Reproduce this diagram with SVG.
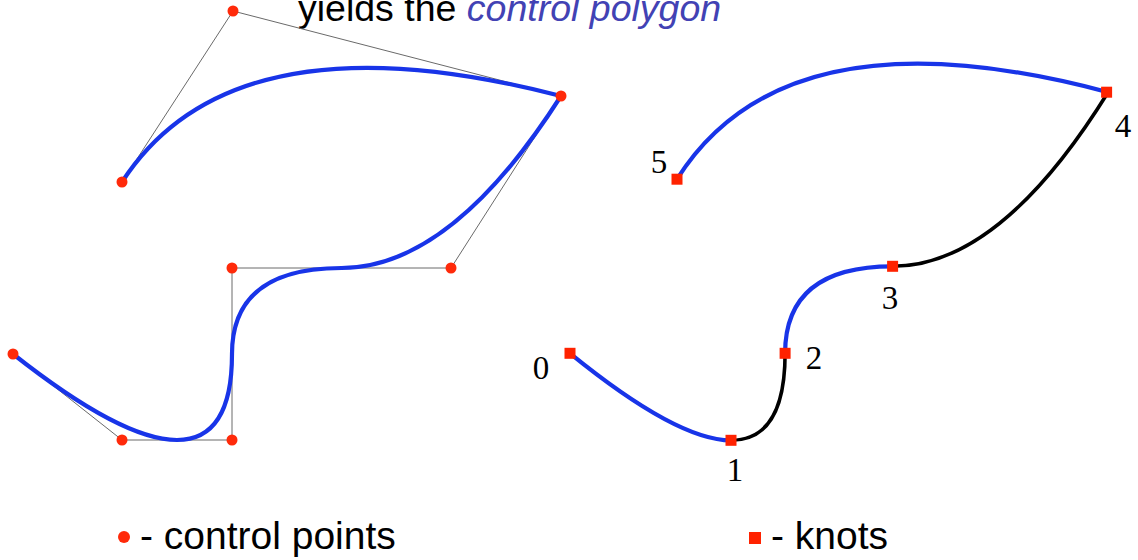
<svg xmlns="http://www.w3.org/2000/svg" width="1138" height="560" viewBox="0 0 1138 560">
<style>
.poly{fill:none;stroke:#6a6a6a;stroke-width:1}
.blue{fill:none;stroke:#1834e8;stroke-width:4.2;stroke-linecap:round}
.black{fill:none;stroke:#000;stroke-width:3.6;stroke-linecap:round}
.dot{fill:#ff2a0a}
.knot{fill:#ff2200}
.lbl{font-family:"Liberation Serif","Times New Roman",serif;font-size:33px;fill:#000;text-anchor:middle}
.sans{font-family:"Liberation Sans",Arial,sans-serif;fill:#000}
</style>
<rect width="1138" height="560" fill="#fff"/>
<text class="sans" x="298" y="21" font-size="37.5">yields the <tspan font-style="italic" fill="#4242b4">control polygon</tspan></text>
<g id="connectors">
<polyline class="poly" points="13,354 122,440 232,440 232,268 451,268 561,96 233,11 122,182"/>
<path class="blue" d="M13,354 Q122,440 177,440 Q232,440 232,354 Q232,268 341.5,268 Q451,268 561,96 Q233,11 122,182"/>
<path class="blue" d="M570,353.3 Q677,440.3 731.05,440.3"/>
<path class="black" d="M731.05,440.3 Q785.1,440.3 785.1,353.3"/>
<path class="blue" d="M785.1,353.3 Q785.1,266.3 892.6,266.3"/>
<path class="black" d="M892.6,266.3 Q1000.1,266.3 1108.1,92.2"/>
<path class="blue" d="M1108.1,92.2 Q786,6.2 677,179.2"/>
</g>
<g id="cp0"><circle class="dot" cx="13" cy="354" r="5.5"/></g>
<g id="cp1"><circle class="dot" cx="122" cy="440" r="5.5"/></g>
<g id="cp2"><circle class="dot" cx="232" cy="440" r="5.5"/></g>
<g id="cp3"><circle class="dot" cx="232" cy="268" r="5.5"/></g>
<g id="cp4"><circle class="dot" cx="451" cy="268" r="5.5"/></g>
<g id="cp5"><circle class="dot" cx="561" cy="96" r="5.5"/></g>
<g id="cp6"><circle class="dot" cx="233" cy="11" r="5.5"/></g>
<g id="cp7"><circle class="dot" cx="122" cy="182" r="5.5"/></g>
<g id="knot0"><rect class="knot" x="564.5" y="347.8" width="11" height="11"/><text class="lbl" x="541" y="379">0</text></g>
<g id="knot1"><rect class="knot" x="725.5" y="434.8" width="11" height="11"/><text class="lbl" x="735" y="481">1</text></g>
<g id="knot2"><rect class="knot" x="779.6" y="347.8" width="11" height="11"/><text class="lbl" x="814" y="369">2</text></g>
<g id="knot3"><rect class="knot" x="887.1" y="260.8" width="11" height="11"/><text class="lbl" x="890" y="309">3</text></g>
<g id="knot4"><rect class="knot" x="1101.1" y="86.7" width="11" height="11"/><text class="lbl" x="1123" y="137">4</text></g>
<g id="knot5"><rect class="knot" x="671.5" y="173.7" width="11" height="11"/><text class="lbl" x="659" y="173">5</text></g>
<g id="legend-cp"><circle class="dot" cx="124" cy="537" r="6"/><text class="sans" x="140" y="549" font-size="39">- control points</text></g>
<g id="legend-knot"><rect class="knot" x="749" y="532" width="12" height="12"/><text class="sans" x="771" y="549" font-size="39">- knots</text></g>
</svg>
